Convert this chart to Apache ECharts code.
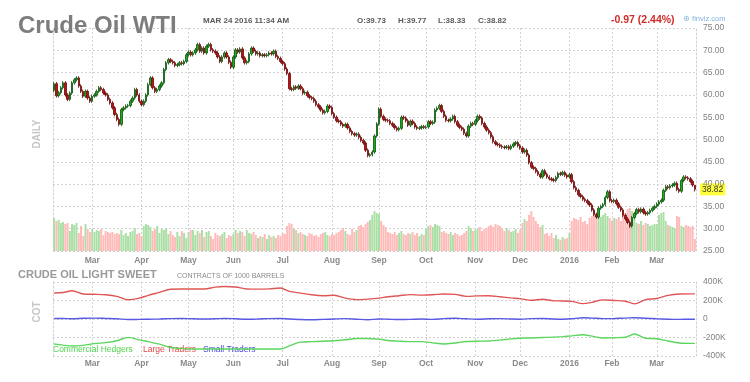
<!DOCTYPE html>
<html><head><meta charset="utf-8">
<script src="https://cdn.jsdelivr.net/npm/echarts@6/dist/echarts.min.js"></script>
<style>html,body{margin:0;padding:0;background:#fff}#c{width:750px;height:382px}</style>
</head><body><div id="c"></div>
<script>
// ---------- data ----------
const firstDay = '2015-02-04';
const lastDay = '2016-03-24';
const holidays = ['2015-02-16','2015-04-03','2015-05-25','2015-07-03','2015-09-07','2015-11-26','2015-12-25','2016-01-01','2016-01-18','2016-02-15'];
const monthNames = ['Jan','Feb','Mar','Apr','May','Jun','Jul','Aug','Sep','Oct','Nov','Dec'];

const firstOpen = 61.0;
const closes = [
 62.5,59.8,60.5,61.6,62.7,60.0,59.0,60.4,62.7,63.4,63.8,62.0,60.8,59.7,60.8,59.3,58.6,
 59.7,60.0,60.8,61.6,61.2,60.4,60.0,59.0,58.2,57.1,55.6,54.5,53.4,56.7,57.1,57.5,57.6,58.6,59.3,61.2,60.0,58.6,
 57.8,58.6,60.0,62.3,63.8,61.6,60.8,61.2,62.0,62.7,65.7,67.2,67.9,67.5,67.2,66.6,66.8,67.2,67.0,67.5,69.0,
 69.6,69.0,69.4,70.1,71.3,69.8,70.5,69.4,70.9,71.3,70.1,69.8,69.4,68.5,67.5,68.5,69.4,68.5,67.3,66.2,
 68.5,70.1,69.6,70.3,68.3,67.2,67.5,69.2,70.5,69.8,69.2,69.4,68.8,69.0,68.8,69.0,69.4,69.2,69.8,68.6,68.2,67.5,
 67.0,65.8,64.8,61.4,61.2,61.8,61.5,62.0,61.4,60.4,60.6,59.8,59.4,59.2,58.6,57.8,57.3,56.6,56.0,56.3,57.5,57.2,
 55.8,55.0,54.2,54.0,53.4,53.0,53.4,52.6,51.8,51.3,51.0,51.2,50.5,49.8,49.2,47.6,46.4,46.6,47.2,50.8,53.5,
 56.8,55.2,54.5,54.3,54.2,53.6,53.2,52.6,52.2,52.5,55.0,54.8,54.2,53.2,54.1,53.6,52.8,52.5,52.6,52.9,52.7,
 52.8,54.0,53.6,53.9,56.6,57.0,57.6,56.3,55.2,54.3,54.2,54.6,55.2,54.0,53.2,52.7,52.3,51.4,50.8,53.0,53.6,53.4,
 54.2,55.2,54.8,53.6,52.8,52.1,51.5,50.6,49.5,49.0,48.8,48.5,48.3,48.2,48.4,48.0,48.5,49.0,49.3,48.6,
 48.1,47.2,47.6,46.5,44.8,43.8,43.5,42.8,42.2,41.6,43.0,42.2,41.6,41.2,41.0,40.8,41.5,42.4,42.2,42.6,42.0,41.6,
 42.1,40.5,39.2,38.6,37.6,37.2,36.6,36.3,35.8,35.3,34.2,33.2,32.6,34.6,35.0,35.4,37.0,38.3,36.3,
 36.1,36.4,35.6,34.8,34.2,33.0,32.2,31.4,30.6,32.5,33.4,34.3,33.8,34.4,33.6,33.3,33.6,34.1,34.6,35.0,
 35.5,36.0,36.4,38.6,39.4,39.2,39.6,39.8,40.2,38.8,38.4,40.8,41.6,41.4,41.2,40.6,39.79,38.82
];
// volume, 10K contracts
const volume = [
 66,60,62,56,58,54,56,40,54,52,56,36,50,30,54,44,38,
 44,38,42,40,44,32,40,38,36,38,34,36,34,42,32,36,30,38,40,46,34,36,
 30,50,54,52,48,40,44,50,36,44,42,46,34,40,32,28,38,30,40,36,26,
 38,42,42,32,40,36,42,28,38,40,30,24,36,32,30,34,38,26,32,30,
 34,42,36,40,38,30,42,36,34,38,32,26,30,28,34,24,32,28,30,26,32,30,
 36,34,50,56,54,44,42,36,38,34,32,30,36,34,30,32,28,34,36,38,32,30,
 34,32,36,38,42,46,40,34,32,44,38,42,50,52,48,54,58,62,72,80,76,
 74,60,52,48,38,36,34,38,32,36,40,34,32,36,34,38,32,36,30,34,32,
 44,50,52,48,54,52,50,38,40,36,34,38,32,36,34,30,32,36,40,50,46,40,
 42,44,48,40,44,46,50,52,48,54,52,50,44,40,46,42,38,40,44,36,
 42,56,64,60,72,80,68,60,54,48,52,34,36,30,36,26,32,24,22,28,24,26,
 36,60,66,64,62,68,58,60,54,66,70,72,76,74,68,72,76,70,66,
 60,66,64,68,60,72,76,84,86,80,70,56,54,60,52,56,54,50,52,54,
 54,72,76,78,60,52,50,48,46,70,68,50,48,52,50,48,50,24
];
// last session quote
const quoteDate = 'MAR 24 2016 11:34 AM';
const lastOpen = 39.73, lastHigh = 39.77, lastLow = 38.33, lastClose = 38.82;
const changeText = '-0.97 (2.44%)';

// COT weekly (first day, Tuesdays, last day), thousands of contracts
const largeTraders = [281,286,305,270,267,262,245,208,225,255,288,322,324,324,324,345,352,346,325,323,326,335,298,280,262,252,256,225,209,215,226,240,252,264,258,262,271,266,245,250,252,240,228,220,203,214,196,195,190,166,180,207,200,192,164,210,222,256,271,272,272];
const commercialHedgers = [-270,-282,-292,-285,-266,-255,-235,-199,-226,-244,-272,-308,-320,-324,-324,-324,-324,-324,-324,-324,-324,-324,-290,-250,-245,-240,-235,-225,-210,-210,-218,-232,-240,-245,-245,-258,-270,-259,-244,-240,-238,-228,-215,-208,-205,-200,-196,-190,-182,-170,-185,-206,-202,-198,-162,-208,-213,-238,-260,-264,-264];
const smallTraders = [5,6,2,8,10,6,2,-6,-4,-2,0,4,6,2,0,2,6,2,-2,0,4,6,0,-6,-8,-4,0,4,-2,-8,0,-2,-6,-4,0,-4,4,8,2,-2,2,4,0,-2,4,6,0,-2,2,14,10,4,6,10,14,8,2,-2,-4,-2,-2];

const priceAxis = {min: 25, max: 75, step: 5};
const cotAxis = {min: -400, max: 400, step: 200};

// ---------- build ----------
const dates = [];
for (let t = Date.parse(firstDay + 'T00:00:00Z'); t <= Date.parse(lastDay + 'T00:00:00Z'); t += 86400000) {
  const d = new Date(t), wd = d.getUTCDay();
  if (wd === 0 || wd === 6) continue;
  const s = d.toISOString().slice(0, 10);
  if (holidays.indexOf(s) >= 0) continue;
  dates.push(s);
}
const n = Math.min(dates.length, closes.length);
const cats = dates.slice(0, n);
const monthLabel = {};
for (let i = 1; i < n; i++) {
  const m = +cats[i].slice(5, 7) - 1, pm = +cats[i - 1].slice(5, 7) - 1;
  if (m !== pm) monthLabel[i] = m === 0 ? cats[i].slice(0, 4) : monthNames[m];
}
const isMonth = (i) => monthLabel[i] !== undefined;

const candles = [], vols = [];
for (let i = 0; i < n; i++) {
  const o = i === n - 1 ? lastOpen : (i === 0 ? firstOpen : closes[i - 1]);
  const c = closes[i];
  const hi = i === n - 1 ? lastHigh : Math.max(o, c) + 0.4;
  const lo = i === n - 1 ? lastLow : Math.min(o, c) - 0.4;
  candles.push([o, c, lo, hi]);
  vols.push({value: volume[i], itemStyle: {color: c >= o ? '#abdfa6' : '#ffbaba'}});
}
// COT positions: first day, every Tuesday, last day
const cotPos = [0];
for (let i = 0; i < n; i++) if (new Date(cats[i] + 'T00:00:00Z').getUTCDay() === 2) cotPos.push(i);
cotPos.push(n - 1);
const pairs = (arr) => cotPos.map((p, k) => [p, arr[k]]).filter(d => d[1] !== undefined);

const FONT = '"Liberation Sans", Arial, sans-serif';
const GRID = '#d2d2d2';
const dash = {color: GRID, type: [2, 2], width: 1};

function xAxisFor(gi, margin) {
  return {
    type: 'category', gridIndex: gi, data: cats, boundaryGap: true,
    axisLine: {show: false}, axisTick: {show: false},
    axisLabel: {interval: (i) => isMonth(i), formatter: (v, i) => monthLabel[i] || '',
      color: '#8a8a8a', fontSize: 8.5, fontWeight: 'bold', fontFamily: FONT, margin: margin},
    splitLine: {show: true, interval: (i) => isMonth(i), alignWithLabel: true, lineStyle: dash}
  };
}

const chart = echarts.init(document.getElementById('c'), null, {renderer: 'canvas'});
chart.setOption({
  animation: false,
  backgroundColor: '#fff',
  grid: [
    {left: 53, right: 54, top: 28, height: 223},
    {left: 53, right: 54, top: 282, height: 74}
  ],
  xAxis: [xAxisFor(0, 5), xAxisFor(1, 3)],
  yAxis: [
    {type: 'value', gridIndex: 0, position: 'right', min: priceAxis.min, max: priceAxis.max, interval: priceAxis.step,
      axisLine: {show: true, lineStyle: dash}, axisTick: {show: false},
      axisLabel: {formatter: (v) => v.toFixed(2), color: '#808080', fontSize: 8.5, fontFamily: FONT, margin: 7},
      splitLine: {lineStyle: dash}},
    {type: 'value', gridIndex: 0, position: 'left', min: 0, max: 446,
      axisLine: {show: true, lineStyle: dash}, axisTick: {show: false}, axisLabel: {show: false}, splitLine: {show: false}},
    {type: 'value', gridIndex: 1, position: 'right', min: cotAxis.min, max: cotAxis.max, interval: cotAxis.step,
      axisLine: {show: true, lineStyle: dash}, axisTick: {show: false},
      axisLabel: {formatter: (v) => v === 0 ? '0' : v + 'K', color: '#808080', fontSize: 8.5, fontFamily: FONT, margin: 7},
      splitLine: {lineStyle: dash}},
    {type: 'value', gridIndex: 1, position: 'left', min: 0, max: 1,
      axisLine: {show: true, lineStyle: dash}, axisTick: {show: false}, axisLabel: {show: false}, splitLine: {show: false}}
  ],
  series: [
    {type: 'bar', xAxisIndex: 0, yAxisIndex: 1, data: vols, barCategoryGap: '12%', silent: true},
    {type: 'candlestick', xAxisIndex: 0, yAxisIndex: 0, data: candles, barWidth: '88%',
      itemStyle: {color: '#1aae1a', color0: '#c01010', borderColor: '#0c520c', borderColor0: '#6a0808', borderWidth: 0.8}},
    {type: 'line', name: 'Large Traders', xAxisIndex: 1, yAxisIndex: 2, data: pairs(largeTraders), smooth: 0.3,
      showSymbol: false, lineStyle: {color: '#e05656', width: 1.4}},
    {type: 'line', name: 'Small Traders', xAxisIndex: 1, yAxisIndex: 2, data: pairs(smallTraders), smooth: 0.3,
      showSymbol: false, lineStyle: {color: '#5858e4', width: 1.4}},
    {type: 'line', name: 'Commercial Hedgers', xAxisIndex: 1, yAxisIndex: 2, data: pairs(commercialHedgers), smooth: 0.3,
      showSymbol: false, lineStyle: {color: '#5cd65c', width: 1.4}}
  ]
});

const yLast = chart.convertToPixel({yAxisIndex: 0}, lastClose);
const txt = (x, y, text, font, fill, extra) => Object.assign({type: 'text', x: x, y: y, silent: true,
  style: Object.assign({text: text, font: font, fill: fill, align: 'left', verticalAlign: 'middle'}, extra || {})});
const quote = [['O:', lastOpen, 357], ['H:', lastHigh, 398], ['L:', lastLow, 438], ['C:', lastClose, 478]];
const graphics = [
  txt(18, 26, 'Crude Oil WTI', 'bold 24px ' + FONT, '#7d7d7d'),
  txt(203, 20.5, quoteDate, 'bold 8px ' + FONT, '#5a5a5a'),
  txt(611, 20, changeText, 'bold 10.5px ' + FONT, '#d42a2a'),
  txt(683, 18.5, '\u2295 finviz.com', '7.5px ' + FONT, '#86b3de'),
  Object.assign(txt(37, 134, 'DAILY', 'bold 10px ' + FONT, '#c6c6c6', {align: 'center'}), {rotation: Math.PI / 2}),
  Object.assign(txt(37, 312, 'COT', 'bold 10px ' + FONT, '#c6c6c6', {align: 'center'}), {rotation: Math.PI / 2}),
  txt(18, 275, 'CRUDE OIL LIGHT SWEET', 'bold 11px ' + FONT, '#9a9a9a'),
  txt(177, 276, 'CONTRACTS OF 1000 BARRELS', '7px ' + FONT, '#8a8a8a'),
  txt(53, 350, 'Commercial Hedgers', '8.5px ' + FONT, '#4fd34f'),
  txt(143, 350, 'Large Traders', '8.5px ' + FONT, '#e04848'),
  txt(203, 350, 'Small Traders', '8.5px ' + FONT, '#4a4ae0'),
  txt(700, yLast, lastClose.toFixed(2), '8.5px ' + FONT, '#333', {backgroundColor: '#ffff3a', padding: [2, 2, 1, 2]})
].concat(quote.map(q => txt(q[2], 20.5, q[0] + q[1].toFixed(2), 'bold 8px ' + FONT, '#5a5a5a')));
chart.setOption({graphic: graphics});
</script>
</body></html>
